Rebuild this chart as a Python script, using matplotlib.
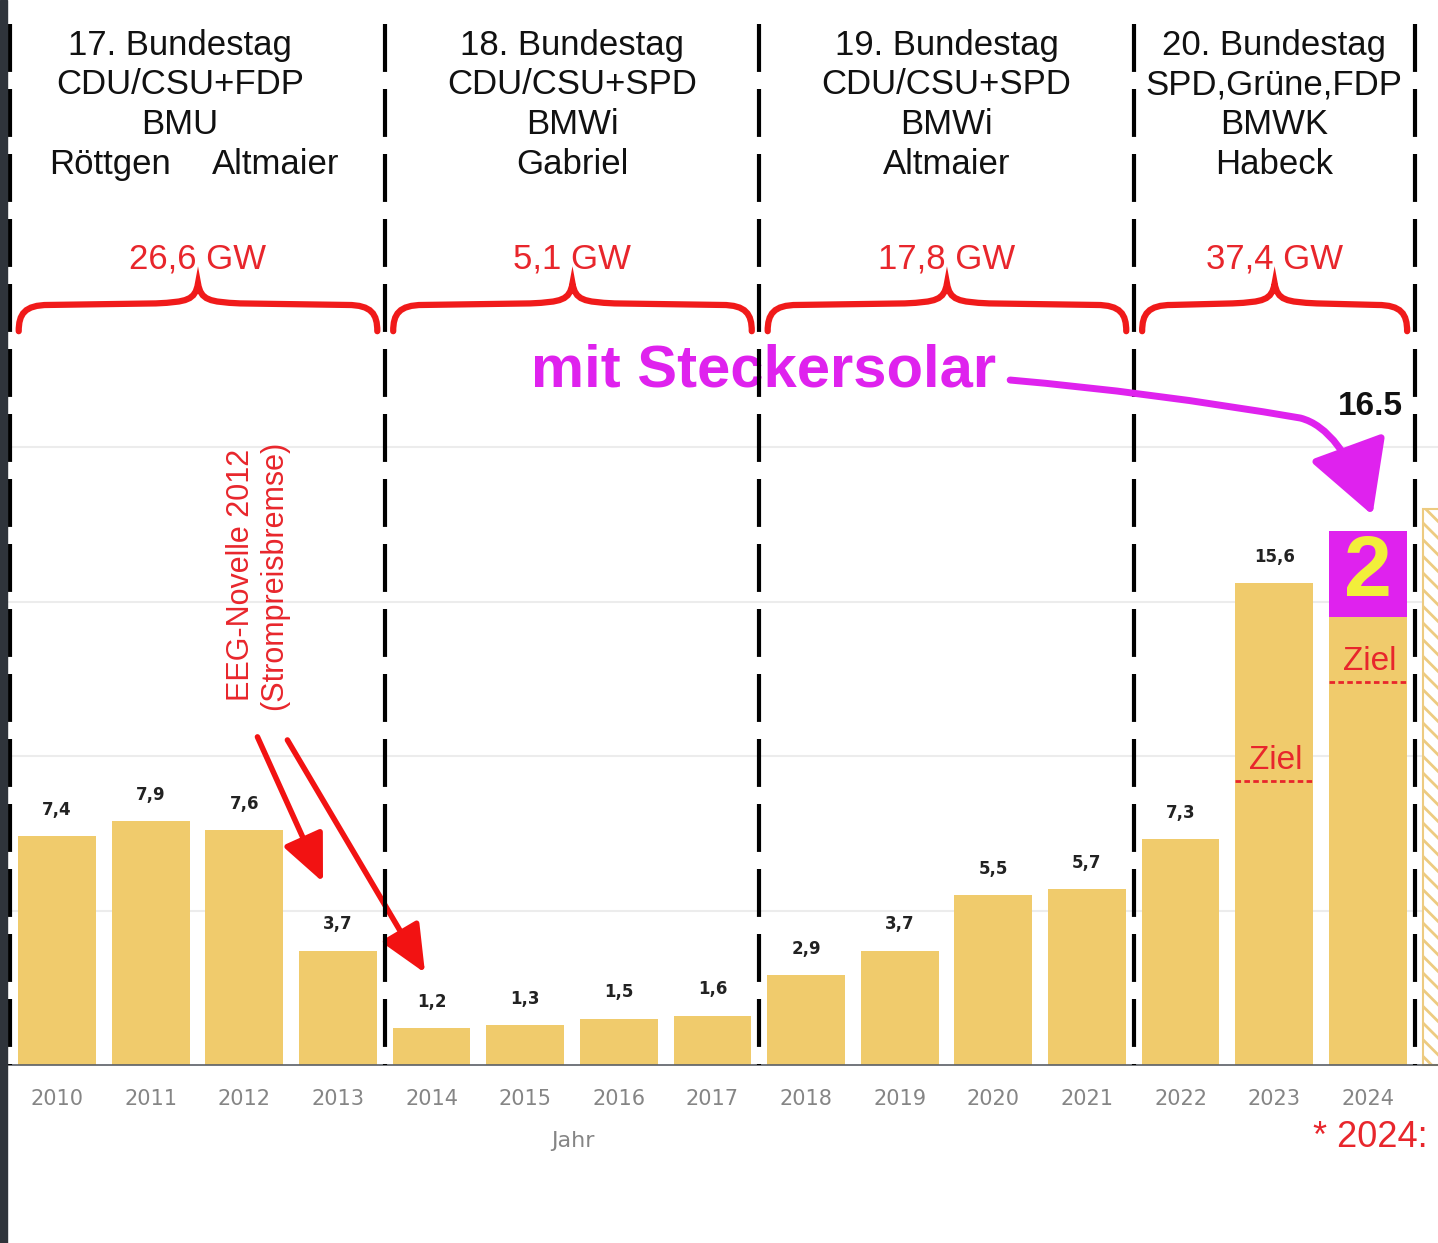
import matplotlib
matplotlib.use("Agg")
import matplotlib.pyplot as plt
from matplotlib.path import Path
from matplotlib.patches import PathPatch, FancyArrowPatch, Rectangle

# PV-Zubau in Deutschland pro Jahr (GW)
years = list(range(2010, 2025))
zubau = [7.4, 7.9, 7.6, 3.7, 1.2, 1.3, 1.5, 1.6, 2.9, 3.7, 5.5, 5.7, 7.3, 15.6, 14.5]
value_labels = ["7,4", "7,9", "7,6", "3,7", "1,2", "1,3", "1,5", "1,6",
                "2,9", "3,7", "5,5", "5,7", "7,3", "15,6", ""]
stecker_2024 = 2.8          # magenta Block "2" auf 2024
total_2024_label = "16.5"
ziel_years = [2023, 2024]
ziel_values = [9.2, 12.4]
next_year_value = 18.0      # schraffierter Balken rechts (abgeschnitten)

# Legislaturperioden: Grenzen als Index der Jahre
period_bounds = [-0.5, 3.5, 7.5, 11.5, 14.5]
period_heads = [
    ["17. Bundestag", "CDU/CSU+FDP", "BMU"],
    ["18. Bundestag", "CDU/CSU+SPD", "BMWi", "Gabriel"],
    ["19. Bundestag", "CDU/CSU+SPD", "BMWi", "Altmaier"],
    ["20. Bundestag", "SPD,Grüne,FDP", "BMWK", "Habeck"],
]
period_gw = ["26,6 GW", "5,1 GW", "17,8 GW", "37,4 GW"]

BAR_COLOR = "#F0CB6C"
RED = "#E8262C"
ARROW_RED = "#F21212"
MAGENTA = "#DF22EE"
BAR_W = 0.83

plt.rcParams["font.family"] = ["Liberation Sans", "DejaVu Sans"]
plt.rcParams["hatch.linewidth"] = 2.0

fig = plt.figure(figsize=(14.38, 12.43), dpi=100)
ax = fig.add_axes([0, 0, 1, 1])
ax.set_xlim(-0.61, 14.75)
ax.set_ylim(-5.76, 34.47)
ax.axis("off")

x = list(range(len(years)))

# grid + baseline
for g in [5, 10, 15, 20]:
    ax.axhline(g, color="#ececec", lw=1.5, zorder=0)
ax.axhline(0, color="#5a5f66", lw=1.2, zorder=3)

# bars
ax.bar(x, zubau, width=BAR_W, color=BAR_COLOR, zorder=2)
ax.bar([x[-1]], [stecker_2024], bottom=[zubau[-1]], width=BAR_W,
       color=MAGENTA, zorder=2)
ax.bar([len(years)], [next_year_value], width=BAR_W, facecolor="white",
       edgecolor="#EDCB80", hatch="\\\\", lw=1.5, zorder=2)

for xi, v, lab in zip(x, zubau, value_labels):
    if lab:
        ax.text(xi, v + 0.85, lab, ha="center", va="center", fontsize=12,
                fontweight="bold", family="DejaVu Sans", color="#222222")

# "2" im magenta Block, Summe darueber
ax.text(x[-1], zubau[-1] + stecker_2024 / 2, "2", ha="center", va="center",
        fontsize=62, fontweight="bold", color="#F2EE3A", zorder=5)
ax.text(x[-1] + 0.03, 21.3, total_2024_label, ha="center", va="center",
        fontsize=24, fontweight="bold", color="#111111", zorder=5)

# Ziel-Linien
for yr, zv in zip(ziel_years, ziel_values):
    xi = years.index(yr)
    ax.plot([xi - BAR_W / 2, xi + BAR_W / 2], [zv, zv], color=RED,
            lw=2, ls=(0, (2, 1.2)), zorder=4)
    ax.text(xi + 0.02, zv + 0.15, "Ziel", ha="center", va="bottom",
            fontsize=24, color=RED, zorder=5)

# x-Achsen-Beschriftung
for xi, yr in zip(x, years):
    ax.text(xi, -1.1, str(yr), ha="center", va="center", fontsize=15,
            family="DejaVu Sans", color="#858585")
ax.text(5.51, -2.46, "Jahr", ha="center", va="center", fontsize=16,
        family="DejaVu Sans", color="#858585")
ax.text(13.42, -2.33, "* 2024: ", ha="left", va="center", fontsize=26,
        color=RED)

# gestrichelte Periodengrenzen
for b in period_bounds:
    ax.plot([b, b], [33.7, 0], color="black", lw=3, ls=(0, (11.5, 4.1)),
            solid_capstyle="butt", zorder=6)


def brace(x0, x1, y_end=23.75, y_line=24.6, y_tip=25.3):
    xm = (x0 + x1) / 2
    verts = [(x0, y_end),
             (x0, y_line - 0.3), (x0 + 0.06, y_line), (x0 + 0.32, y_line),
             (xm - 0.45, y_line + 0.05),
             (xm - 0.12, y_line + 0.1), (xm - 0.03, y_line + 0.15), (xm, y_tip),
             (xm + 0.03, y_line + 0.15), (xm + 0.12, y_line + 0.1), (xm + 0.45, y_line + 0.05),
             (x1 - 0.32, y_line),
             (x1 - 0.06, y_line), (x1, y_line - 0.3), (x1, y_end)]
    codes = [Path.MOVETO] + [Path.CURVE4] * 3 + [Path.LINETO] + \
            [Path.CURVE4] * 6 + [Path.LINETO] + [Path.CURVE4] * 3
    ax.add_patch(PathPatch(Path(verts, codes), fill=False, edgecolor="#F01A1A",
                           lw=4.5, capstyle="round", zorder=5))


head_y = [33.0, 31.73, 30.43, 29.13]
for i, lines in enumerate(period_heads):
    lo, hi = period_bounds[i], period_bounds[i + 1]
    mid = (lo + hi) / 2
    cx = mid - 0.19 if i == 0 else mid
    for line, yy in zip(lines, head_y):
        ax.text(cx, yy, line, ha="center", va="center", fontsize=25,
                color="#111111")
    ax.text(mid, 26.1, period_gw[i], ha="center", va="center", fontsize=25,
            color=RED)
    brace(lo + 0.09, hi - 0.08)

# 17. Bundestag: zwei Minister
ax.text(0.57, head_y[3], "Röttgen", ha="center", va="center", fontsize=25,
        color="#111111")
ax.text(2.34, head_y[3], "Altmaier", ha="center", va="center", fontsize=25,
        color="#111111")

# EEG-Novelle mit Pfeilen
ax.text(2.14, 15.85, "EEG-Novelle 2012\n(Strompreisbremse)", rotation=90,
        ha="center", va="center", fontsize=22, color=RED, linespacing=1.15)
ax.annotate("", xy=(2.84, 5.92), xytext=(2.14, 10.62),
            arrowprops=dict(arrowstyle="-|>,head_length=1.45,head_width=0.65",
                            lw=4, color=ARROW_RED, mutation_scale=20,
                            shrinkA=0, shrinkB=0), zorder=5)
ax.annotate("", xy=(3.93, 2.98), xytext=(2.46, 10.52),
            arrowprops=dict(arrowstyle="-|>,head_length=1.45,head_width=0.65",
                            lw=4, color=ARROW_RED, mutation_scale=20,
                            shrinkA=0, shrinkB=0), zorder=5)

# mit Steckersolar + Pfeil
ax.text(7.55, 22.45, "mit Steckersolar", ha="center", va="center",
        fontsize=43, fontweight="bold", color=MAGENTA, zorder=3)
arrow_path = Path([(10.18, 22.17), (11.68, 21.78), (13.28, 20.94),
                   (13.71, 20.61), (14.05, 17.8)],
                  [Path.MOVETO, Path.CURVE3, Path.CURVE3, Path.CURVE3, Path.CURVE3])
ax.add_patch(FancyArrowPatch(path=arrow_path,
                             arrowstyle="-|>,head_length=45,head_width=25",
                             mutation_scale=1, lw=5, color=MAGENTA,
                             transform=ax.transData, zorder=7))

# dunkler Bildrand links
ax.add_patch(Rectangle((0, 0), 0.005, 1, transform=ax.transAxes,
                       color="#2f343b", zorder=8))

fig.savefig("out.png", dpi=100)
